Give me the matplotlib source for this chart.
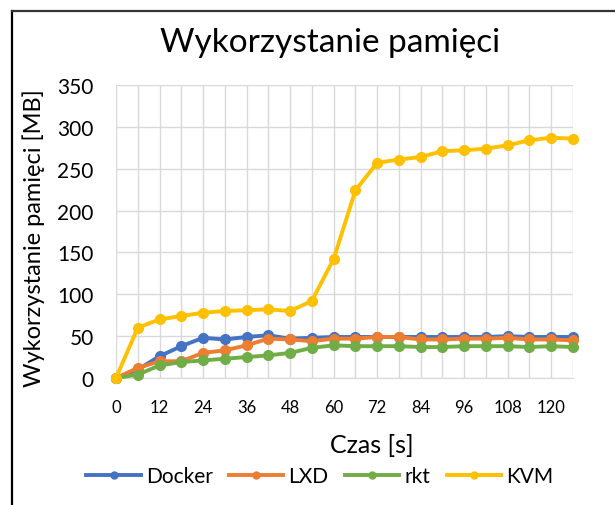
import matplotlib
matplotlib.use("Agg")
import matplotlib.pyplot as plt
from matplotlib.lines import Line2D

plt.rcParams['font.family'] = ['Lato', 'DejaVu Sans']

czas = [0, 6, 12, 18, 24, 30, 36, 42, 48, 54, 60, 66, 72, 78, 84, 90, 96, 102, 108, 114, 120, 126]
docker = [0, 10, 26, 38, 48, 46, 49, 51, 47, 48, 49, 49, 49, 49, 49, 49, 49, 49, 50, 49, 49, 49]
lxd = [0, 12, 20, 20, 30, 33, 39, 47, 46, 44, 47, 47, 49, 49, 46, 46, 47, 47, 48, 46, 46, 45]
rkt = [0, 4, 15, 19, 21, 23, 25, 27, 30, 36, 39, 38, 38, 38, 37, 37, 38, 38, 38, 37, 38, 37]
kvm = [0, 60, 70, 74, 78, 80, 81, 82, 80, 92, 142, 224, 257, 261, 264, 271, 272, 274, 278, 284, 287, 286]

names = ["Docker", "LXD", "rkt", "KVM"]
colors = ["#4472C4", "#ED7D31", "#70AD47", "#FFC000"]
x_ticks = [0, 12, 24, 36, 48, 60, 72, 84, 96, 108, 120]
y_ticks = [0, 50, 100, 150, 200, 250, 300, 350]

fig = plt.figure(figsize=(6.15, 5.06), dpi=100)
ax = fig.add_axes([0.1886, 0.251, 0.743, 0.579])

for i, series in enumerate([docker, lxd, rkt, kvm]):
    ax.plot(czas, series, color=colors[i], lw=2.8, marker='o', ms=7,
            label=names[i], zorder=3 + i, clip_on=False)

ax.set_xlim(0, 126)
ax.set_ylim(0, 350)
ax.set_xticks(czas, minor=True)
ax.set_xticks(x_ticks)
ax.set_yticks(y_ticks)
ax.tick_params(axis='both', which='both', length=0, colors='black')
ax.tick_params(axis='x', labelsize=12, pad=15)
ax.tick_params(axis='y', labelsize=15, pad=16)
ax.grid(axis='y', color='#d9d9d9', lw=1, zorder=0)
ax.grid(axis='x', which='both', color='#d9d9d9', lw=1, zorder=0)
for s in ['top', 'right', 'left']:
    ax.spines[s].set_visible(False)
ax.spines['bottom'].set_color('#d9d9d9')

# opisy osi i tytul
fig.text(0.054, 0.530, "Wykorzystanie pamięci [MB]", fontsize=17, rotation=90,
         ha='center', va='center')
fig.text(0.605, 0.1186, "Czas [s]", fontsize=18, ha='center', va='center')
fig.text(0.537, 0.897, "Wykorzystanie pamięci", fontsize=24, ha='center', va='baseline')

handles = [Line2D([], [], color=c, lw=2.8, marker='o', ms=5) for c in colors]
fig.legend(handles, names, loc='center', bbox_to_anchor=(0.52, 0.057), ncol=4,
           frameon=False, fontsize=15, handlelength=2.6, columnspacing=0.8,
           handletextpad=0.24, borderaxespad=0, borderpad=0)

# ramka (widoczna tylko z lewej i z gory)
fig.add_artist(Line2D([12 / 615, 12 / 615], [0, 1 - 12 / 506], color='black', lw=1.6,
                      transform=fig.transFigure))
fig.add_artist(Line2D([12 / 615, 1], [1 - 12 / 506, 1 - 12 / 506], color='#333333', lw=1.6,
                      transform=fig.transFigure))

fig.savefig("out.png", dpi=100)
